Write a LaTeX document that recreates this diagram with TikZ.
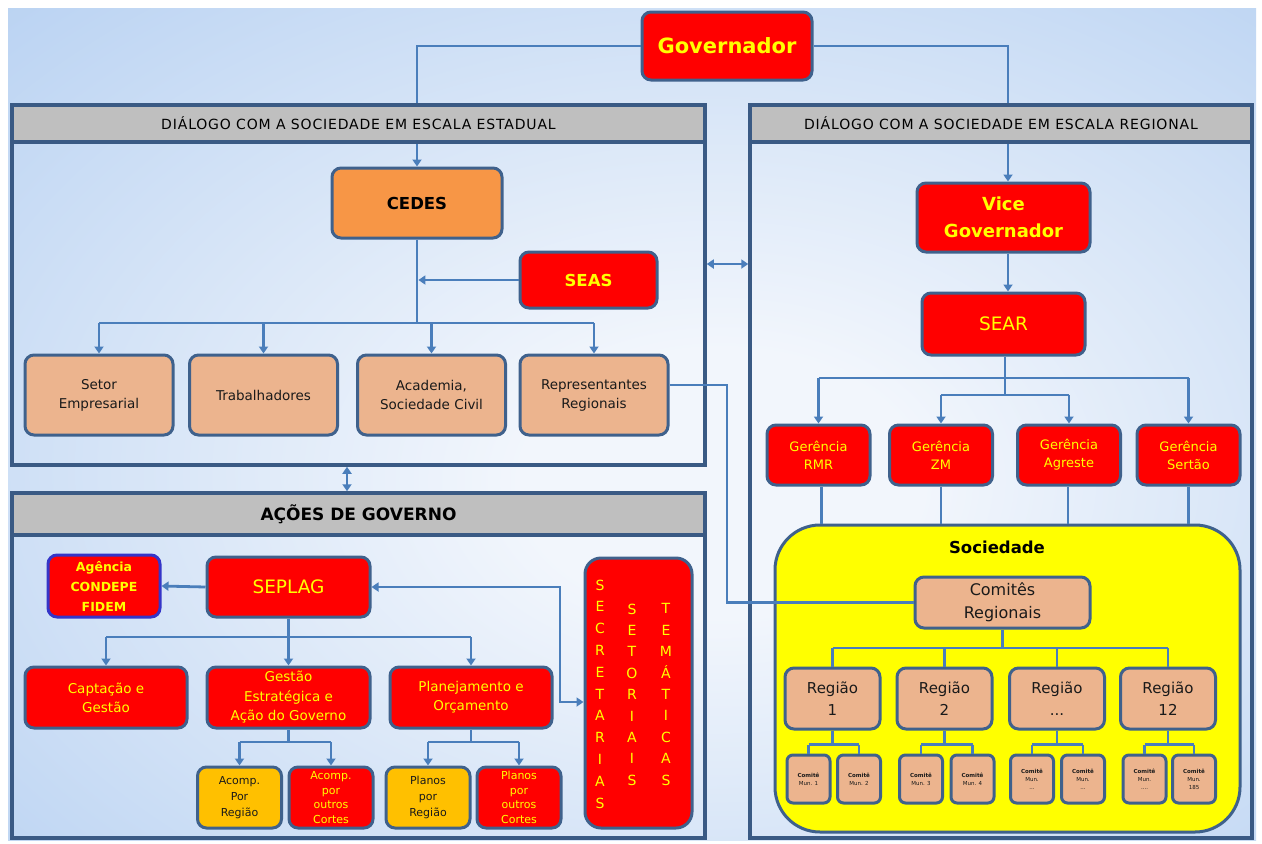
\documentclass[tikz,border=0pt]{standalone}
\usepackage{fontspec}
\setmainfont{DejaVu Sans}
\usetikzlibrary{arrows.meta}
\definecolor{bord}{HTML}{3F618C}
\definecolor{pbord}{HTML}{3A5A84}
\definecolor{lnk}{HTML}{4A7EBB}
\definecolor{boxred}{HTML}{FF0000}
\definecolor{txtyel}{HTML}{FFFF00}
\definecolor{tanc}{HTML}{ECB48E}
\definecolor{cedesc}{HTML}{F79646}
\definecolor{goldc}{HTML}{FFC000}
\definecolor{hgray}{HTML}{BFBFBF}
\definecolor{agbord}{HTML}{3535C8}
\definecolor{socy}{HTML}{FFFF00}
\definecolor{bgin}{HTML}{F2F6FC}
\definecolor{bgmid}{HTML}{B4CFF1}
\definecolor{bgout}{HTML}{8CB6EA}
\definecolor{darktxt}{HTML}{1A1A1A}
\pgfdeclareradialshading{bgshade}{\pgfpoint{4bp}{-4bp}}{color(0bp)=(bgin); color(8bp)=(bgin); color(42bp)=(bgmid); color(75bp)=(bgout)}
\newcommand\myfs[2]{\fontsize{#1}{#2}\selectfont}
\tikzset{
  bx/.style={draw=bord, line width=3pt, rounded corners=9pt, inner sep=0pt, align=center},
  redbx/.style={bx, fill=boxred, text=txtyel},
  tanbx/.style={bx, fill=tanc, text=darktxt},
  goldbx/.style={bx, fill=goldc, text=darktxt},
  conn/.style={draw=lnk, line width=2.8pt},
  arr/.style={conn, -{Triangle[width=9pt,length=7pt]}},
  dbl/.style={conn, {Triangle[width=9pt,length=7pt]}-{Triangle[width=9pt,length=7pt]}},
  panel/.style={draw=pbord, line width=3.5pt, inner sep=0pt},
  hdr/.style={draw=pbord, line width=3.5pt, fill=hgray, inner sep=0pt, text=black},
  hfont/.style={font=\myfs{14}{16}\addfontfeature{LetterSpace=6}},
  lbl/.style={inner sep=0pt, align=center}
}
\begin{document}
\begin{tikzpicture}[x=1pt,y=-1pt]
\useasboundingbox (0,0) rectangle (1262,844);
\fill[white] (0,0) rectangle (1262,844);
\fill[shading=bgshade] (8,8) rectangle (1256,840);

% Governador
\node[redbx, minimum width=170, minimum height=68, font=\myfs{21}{25}\bfseries] (gov) at (727,46) {Governador};

% Panels
\node[panel, minimum width=693, minimum height=360] (panL) at (358.5,285) {};
\node[hdr, hfont, minimum width=693, minimum height=37] (hdrL) at (358.5,123.5) {DIÁLOGO COM A SOCIEDADE EM ESCALA ESTADUAL};
\node[panel, minimum width=502, minimum height=733] (panR) at (1001,471.5) {};
\node[hdr, hfont, minimum width=502, minimum height=37] (hdrR) at (1001,123.5) {DIÁLOGO COM A SOCIEDADE EM ESCALA REGIONAL};
\node[panel, minimum width=693, minimum height=345] (panA) at (358.5,665.5) {};
\node[hdr, minimum width=693, minimum height=42, font=\myfs{17}{20}\bfseries] (hdrA) at (358.5,514) {AÇÕES DE GOVERNO};

% Left panel content
\node[bx, fill=cedesc, text=black, minimum width=170, minimum height=70, font=\myfs{16.5}{19}\bfseries] (cedes) at (417,203) {CEDES};
\node[redbx, minimum width=137, minimum height=56, font=\myfs{16.5}{19}\bfseries] (seas) at (588.5,280) {SEAS};
\node[tanbx, minimum width=148, minimum height=80, font=\myfs{13.5}{19}] (setor) at (99,395) {Setor\\Empresarial};
\node[tanbx, minimum width=148, minimum height=80, font=\myfs{13.5}{19}] (trab) at (263.5,395) {Trabalhadores};
\node[tanbx, minimum width=148, minimum height=80, font=\myfs{13.5}{19}] (acad) at (431.5,395) {Academia,\\Sociedade Civil};
\node[tanbx, minimum width=148, minimum height=80, font=\myfs{13.5}{19}] (repr) at (594,395) {Representantes\\Regionais};

% Governador connectors
\draw[conn] (gov.west) -| (cedes.north |- hdrL.north);
\draw[conn] (gov.east) -| (1008,0 |- hdrR.north);
\draw[arr] (cedes.north |- hdrL.south) -- (cedes.north);

\coordinate (brL) at (417,323);
\draw[conn] (cedes.south) -- (brL);
\draw[arr] (seas.west) -- ([xshift=1.4pt]cedes.south |- seas.west);
\draw[conn] (setor.north |- brL) -- (repr.north |- brL);
\foreach \n in {setor,trab,acad,repr} \draw[arr] (\n.north |- brL) -- (\n.north);

% inter-panel arrows
\coordinate (hy) at (0,264);
\draw[dbl] (panL.east |- hy) -- (panR.west |- hy);
\coordinate (vx) at (347,0);
\draw[dbl] (panL.south -| vx) -- (hdrA.north -| vx);

% Acoes de governo
\node[bx, draw=agbord, fill=boxred, text=txtyel, minimum width=112, minimum height=62, font=\myfs{12.5}{20}\bfseries] (agencia) at (104,586) {Agência\\CONDEPE\\FIDEM};
\node[redbx, minimum width=163, minimum height=60, font=\myfs{18.5}{21}] (seplag) at (288.5,587) {SEPLAG};
\draw[arr] (seplag.west) -- (agencia.east);
\node[redbx, minimum width=162, minimum height=61, font=\myfs{13.5}{19}] (capt) at (106,697.5) {Captação e\\Gestão};
\node[redbx, minimum width=163, minimum height=61, font=\myfs{13.5}{19.5}] (gest) at (288.5,697.5) {Gestão\\Estratégica e\\Ação do Governo};
\node[redbx, minimum width=162, minimum height=61, font=\myfs{13.5}{19}] (plan) at (471,697.5) {Planejamento e\\Orçamento};
\coordinate (brA) at (288.5,637);
\draw[conn] (seplag.south) -- (brA);
\draw[conn] (capt.north |- brA) -- (plan.north |- brA);
\foreach \n in {capt,gest,plan} \draw[arr] (\n.north |- brA) -- (\n.north);

\node[goldbx, minimum width=84, minimum height=61, font=\myfs{11}{16}] (acp1) at (239.5,797.5) {Acomp.\\Por\\Região};
\node[redbx, minimum width=84, minimum height=61, font=\myfs{11}{14.5}] (acp2) at (331,797.5) {Acomp.\\por\\outros\\Cortes};
\node[goldbx, minimum width=84, minimum height=61, font=\myfs{11}{16}] (pln1) at (428,797.5) {Planos\\por\\Região};
\node[redbx, minimum width=84, minimum height=61, font=\myfs{11}{14.5}] (pln2) at (519,797.5) {Planos\\por\\outros\\Cortes};
\coordinate (brG) at (288.5,742);
\coordinate (brP) at (471,742);
\draw[conn] (gest.south) -- (brG);
\draw[conn] (plan.south) -- (brP);
\draw[conn] (acp1.north |- brG) -- (acp2.north |- brG);
\draw[conn] (pln1.north |- brP) -- (pln2.north |- brP);
\foreach \n in {acp1,acp2} \draw[arr] (\n.north |- brG) -- (\n.north);
\foreach \n in {pln1,pln2} \draw[arr] (\n.north |- brP) -- (\n.north);

\node[redbx, rounded corners=16pt, minimum width=107, minimum height=270] (secr) at (638.5,693) {};
\node[lbl, text=txtyel, font=\myfs{14}{21.8}] (sc1) at (600,694) {S\\E\\C\\R\\E\\T\\A\\R\\I\\A\\S};
\node[lbl, text=txtyel, font=\myfs{14}{21.4}] (sc2) at (632,694.5) {S\\E\\T\\O\\R\\I\\A\\I\\S};
\node[lbl, text=txtyel, font=\myfs{14}{21.4}] (sc3) at (666,694.5) {T\\E\\M\\Á\\T\\I\\C\\A\\S};
\coordinate (sx) at (560,702);
\draw[dbl] (seplag.east) -| (sx) -- (secr.west |- sx);

% Right panel content
\node[redbx, minimum width=173, minimum height=69, font=\myfs{18}{27}\bfseries] (vice) at (1003.5,217.5) {Vice\\Governador};
\draw[arr] (vice.north |- hdrR.south) ++(4.5,0) -- ([xshift=4.5pt]vice.north);
\node[redbx, minimum width=163, minimum height=62, font=\myfs{18.5}{21}] (sear) at (1003.5,324) {SEAR};
\draw[arr] ([xshift=4.5pt]vice.south) -- ([xshift=4.5pt]sear.north);

\node[redbx, minimum width=103, minimum height=60, font=\myfs{13}{18}] (rmr) at (818.5,455) {Gerência\\RMR};
\node[redbx, minimum width=103, minimum height=60, font=\myfs{13}{18}] (zm) at (941,455) {Gerência\\ZM};
\node[redbx, minimum width=103, minimum height=60, font=\myfs{13}{18}] (agr) at (1069,455) {Gerência\\Agreste};
\node[redbx, minimum width=103, minimum height=60, font=\myfs{13}{18}] (sert) at (1188.5,455) {Gerência\\Sertão};
\coordinate (brS1) at (1005,378);
\coordinate (brS2) at (1005,395);
\draw[conn] (sear.south -| brS1) -- (brS2);
\draw[conn] (rmr.north |- brS1) -- (sert.north |- brS1);
\draw[conn] (zm.north |- brS2) -- (agr.north |- brS2);
\foreach \n in {rmr,sert} \draw[arr] (\n.north |- brS1) -- (\n.north);
\foreach \n in {zm,agr} \draw[arr] (\n.north |- brS2) -- (\n.north);

% Sociedade
\node[bx, fill=socy, rounded corners=45pt, minimum width=465, minimum height=307] (soc) at (1007.5,678.5) {};
\foreach \n/\dx in {rmr/3,zm/0,agr/-1,sert/0} \draw[conn] ([xshift=\dx pt]\n.south) -- ([xshift=\dx pt]\n.south |- soc.north);
\node[lbl, text=black, font=\myfs{16.5}{19}\bfseries] (soct) at (997,547) {Sociedade};
\node[tanbx, minimum width=175, minimum height=51, font=\myfs{16}{23}] (comt) at (1002.5,602.5) {Comitês\\Regionais};

\coordinate (rx) at (727,385);
\draw[conn] (repr.east |- rx) -- (rx) |- (comt.west);

\node[tanbx, minimum width=95, minimum height=61, font=\myfs{15}{22}] (r1) at (832.5,698.5) {Região\\1};
\node[tanbx, minimum width=95, minimum height=61, font=\myfs{15}{22}] (r2) at (944.5,698.5) {Região\\2};
\node[tanbx, minimum width=95, minimum height=61, font=\myfs{15}{22}] (r3) at (1057,698.5) {Região\\...};
\node[tanbx, minimum width=95, minimum height=61, font=\myfs{15}{22}] (r4) at (1168,698.5) {Região\\12};
\coordinate (brC) at (1002.5,648);
\draw[conn] (comt.south) -- (brC);
\draw[conn] (r1.north |- brC) -- (r4.north |- brC);
\foreach \n in {r1,r2,r3,r4} \draw[conn] (\n.north |- brC) -- (\n.north);

\tikzset{mini/.style={tanbx, rounded corners=6pt, minimum width=43, minimum height=48, font=\myfs{5.5}{8}}}
\node[mini] (m1) at (808.5,779) {\textbf{Comitê}\\Mun. 1};
\node[mini] (m2) at (859,779) {\textbf{Comitê}\\Mun. 2};
\node[mini] (m3) at (921,779) {\textbf{Comitê}\\Mun. 3};
\node[mini] (m4) at (972.5,779) {\textbf{Comitê}\\Mun. 4};
\node[mini] (m5) at (1032,779) {\textbf{Comitê}\\Mun.\\...};
\node[mini] (m6) at (1083,779) {\textbf{Comitê}\\Mun.\\...};
\node[mini] (m7) at (1144.5,779) {\textbf{Comitê}\\Mun.\\....};
\node[mini] (m8) at (1194,779) {\textbf{Comitê}\\Mun.\\185};
\foreach \r/\a/\b in {r1/m1/m2, r2/m3/m4, r3/m5/m6, r4/m7/m8} {
  \coordinate (t\r) at ([yshift=-14pt]\r.south);
  \draw[conn] (\r.south) -- (t\r);
  \draw[conn] (\a.north |- t\r) -- (\b.north |- t\r);
  \draw[conn] (\a.north |- t\r) -- (\a.north);
  \draw[conn] (\b.north |- t\r) -- (\b.north);
}
\end{tikzpicture}
\end{document}
